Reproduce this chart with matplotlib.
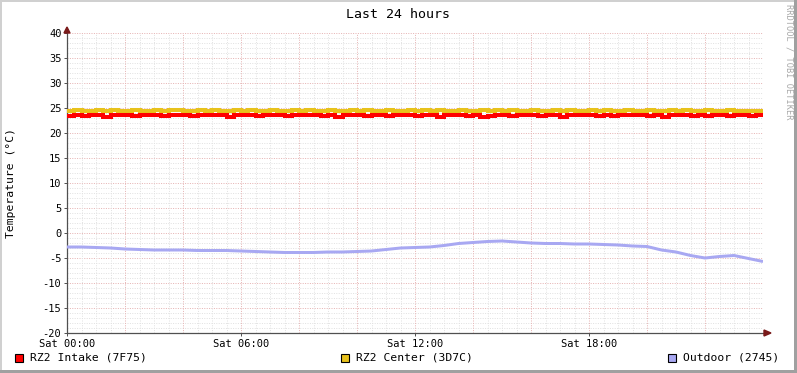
import matplotlib
matplotlib.use('Agg')
import matplotlib.pyplot as plt
import numpy as np
from matplotlib.patches import Rectangle, Polygon

# data (values in degrees C, 24 h window)

tick_hours=[0,6,12,18]
tick_labels=['Sat 00:00','Sat 06:00','Sat 12:00','Sat 18:00']

# 15 minute samples
intake=[23.5,23.6,23.4,23.7,23.6,23.3,23.6,23.7,23.6,23.5,23.7,23.6,
        23.6,23.4,23.7,23.6,23.6,23.5,23.7,23.7,23.6,23.6,23.3,23.6,
        23.7,23.6,23.5,23.6,23.7,23.6,23.4,23.6,23.6,23.7,23.6,23.5,
        23.6,23.2,23.6,23.7,23.6,23.5,23.6,23.6,23.4,23.6,23.7,23.6,
        23.5,23.6,23.6,23.3,23.6,23.7,23.6,23.5,23.6,23.2,23.5,23.6,
        23.6,23.4,23.6,23.7,23.6,23.5,23.6,23.6,23.3,23.6,23.7,23.6,
        23.6,23.5,23.6,23.4,23.6,23.7,23.6,23.6,23.5,23.6,23.3,23.6,
        23.6,23.7,23.5,23.6,23.4,23.6,23.6,23.5,23.6,23.6,23.5,23.6]

center=[24.5,24.6,24.5,24.4,24.6,24.5,24.7,24.5,24.5,24.6,24.4,24.5,
        24.6,24.5,24.7,24.6,24.5,24.5,24.6,24.4,24.6,24.5,24.5,24.7,
        24.5,24.6,24.5,24.5,24.7,24.5,24.4,24.6,24.5,24.6,24.5,24.5,
        24.6,24.5,24.4,24.6,24.5,24.7,24.5,24.5,24.6,24.5,24.4,24.6,
        24.5,24.6,24.5,24.7,24.5,24.5,24.6,24.4,24.5,24.6,24.5,24.6,
        24.5,24.7,24.5,24.5,24.6,24.5,24.4,24.6,24.5,24.6,24.5,24.5,
        24.6,24.5,24.7,24.5,24.5,24.6,24.4,24.5,24.6,24.5,24.5,24.6,
        24.5,24.6,24.5,24.4,24.6,24.5,24.5,24.6,24.5,24.5,24.4,24.5]

# 30 minute samples
outdoor=[-2.8,-2.8,-2.9,-3.0,-3.2,-3.3,-3.4,-3.4,-3.4,-3.5,-3.5,-3.5,
         -3.6,-3.7,-3.8,-3.9,-3.9,-3.9,-3.8,-3.8,-3.7,-3.6,-3.3,-3.0,
         -2.9,-2.8,-2.5,-2.1,-1.9,-1.7,-1.6,-1.8,-2.0,-2.1,-2.1,-2.2,
         -2.2,-2.3,-2.4,-2.6,-2.7,-3.4,-3.8,-4.5,-5.0,-4.7,-4.5,-5.1,-5.7]

names=['RZ2 Intake (7F75)','RZ2 Center (3D7C)','Outdoor (2745)']
colors=['#FF0000','#E8C21C','#A8A8F2']

#____________________________________________________________________________

plt.rcParams['axes.unicode_minus']=False

W,H=797,373
mono='DejaVu Sans Mono'

def px(x,y):    # pixel position (from top left) to figure fraction
    return (x/W,1-y/H)

fig=plt.figure(figsize=(W/100,H/100),dpi=100)
ax=fig.add_axes([67/W,40/H,696/W,300/H])

ax.set_xlim(0,24)
ax.set_ylim(-20,40)

# grid
dot=(0,(1,1.4))
for v in range(-20,41):
    major = v % 5 == 0
    ax.axhline(v,color='#e6b4b4' if major else '#e2e2e2',lw=0.72,ls=dot,zorder=1)
for h in np.arange(0,24.01,0.5):
    major = h % 2 == 0
    ax.axvline(h,color='#e6b4b4' if major else '#e2e2e2',lw=0.72,ls=dot,zorder=1)

lw=2.9
p1=ax.stairs(center,np.linspace(0,24,len(center)+1),baseline=None,color=colors[1],lw=lw,zorder=3)
p2=ax.stairs(intake,np.linspace(0,24,len(intake)+1),baseline=None,color=colors[0],lw=lw,zorder=4)
for p in (p1,p2):
    p.set_joinstyle('miter')
    p.set_capstyle('butt')
ax.plot(np.linspace(0,24,len(outdoor)),outdoor,color=colors[2],lw=2.16,zorder=3,
        solid_joinstyle='miter',solid_capstyle='butt')

for s in ['top','right']:
    ax.spines[s].set_visible(False)
for s in ['left','bottom']:
    ax.spines[s].set_color('#505050')
    ax.spines[s].set_linewidth(0.9)

ax.set_yticks(range(-20,41,5))
ax.set_xticks(tick_hours)
ax.set_xticklabels(tick_labels)
ax.tick_params(axis='both',length=2,width=0.7,color='#505050',pad=2,labelsize=7.5)
for lab in ax.get_xticklabels()+ax.get_yticklabels():
    lab.set_fontfamily(mono)

# axis arrows
fig.add_artist(Polygon([px(64,33),px(70,33),px(67,27)],closed=True,transform=fig.transFigure,color='#7a1a1a'))
fig.add_artist(Polygon([px(764,330),px(764,336),px(771,333)],closed=True,transform=fig.transFigure,color='#7a1a1a'))

# texts
fig.text(*px(398,14),'Last 24 hours',ha='center',va='center',fontsize=9.5,family=mono)
fig.text(*px(11,183),'Temperature (°C)',ha='center',va='center',rotation=90,fontsize=8.2,family=mono)
fig.text(*px(789,62),'RRDTOOL / TOBI OETIKER',ha='center',va='center',rotation=270,
         fontsize=6.2,family=mono,color='#a8a8a8')

# legend
for name,col,x0 in zip(names,colors,[15,341,668]):
    fig.add_artist(Rectangle(px(x0,362),8/W,8/H,transform=fig.transFigure,fc=col,ec='black',lw=0.8))
    fig.text(*px(x0+15,358),name,ha='left',va='center',fontsize=8.2,family=mono)

# frame
fig.add_artist(Rectangle((0,1-2/H),1,2/H,transform=fig.transFigure,color='#d0d0d0',lw=0))
fig.add_artist(Rectangle((0,0),2/W,1,transform=fig.transFigure,color='#d0d0d0',lw=0))
fig.add_artist(Rectangle((1-3/W,0),3/W,1,transform=fig.transFigure,color='#a0a0a0',lw=0))
fig.add_artist(Rectangle((0,0),1,3/H,transform=fig.transFigure,color='#a0a0a0',lw=0))

plt.savefig('out.png',dpi=100)
